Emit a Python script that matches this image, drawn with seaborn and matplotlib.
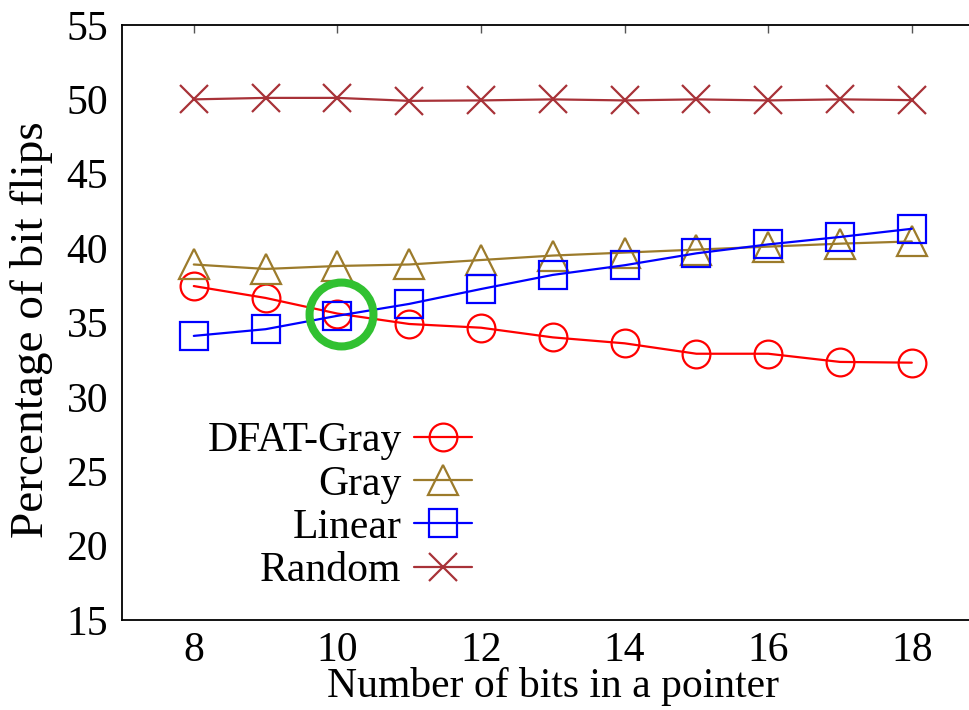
import matplotlib
matplotlib.use("Agg")
import matplotlib.pyplot as plt
import seaborn as sns
import pandas as pd

bits = [8, 9, 10, 11, 12, 13, 14, 15, 16, 17, 18]
dfat_gray = [37.45, 36.65, 35.6, 34.9, 34.65, 34.0, 33.6, 32.9, 32.9, 32.35, 32.3]
gray = [38.9, 38.6, 38.8, 38.9, 39.2, 39.5, 39.7, 39.9, 40.1, 40.3, 40.45]
linear = [34.1, 34.55, 35.45, 36.25, 37.25, 38.2, 38.85, 39.65, 40.25, 40.75, 41.3]
random_ = [50.0, 50.1, 50.1, 49.9, 49.93, 50.0, 49.93, 50.0, 49.93, 50.0, 49.95]

series_names = ["DFAT-Gray", "Gray", "Linear", "Random"]
series_values = [dfat_gray, gray, linear, random_]
colors = ["#ff0000", "#9c7b2b", "#0000ff", "#a83238"]
markers = ["o", "^", "s", "x"]
msizes = [20, 21, 19.5, 19.5]

highlight_x = [10.05]
highlight_y = [35.55]

xticks = [8, 10, 12, 14, 16, 18]
yticks = [15, 20, 25, 30, 35, 40, 45, 50, 55]

sns.set_style("white")
plt.rcParams["font.family"] = ["Liberation Serif", "DejaVu Serif"]
plt.rcParams["text.color"] = "black"
plt.rcParams["axes.labelcolor"] = "black"
plt.rcParams["xtick.color"] = "black"
plt.rcParams["ytick.color"] = "black"

fig = plt.figure(figsize=(9.69, 7.10), dpi=100)
ax = fig.add_axes([122 / 969, 90 / 710, 861.6 / 969, 595 / 710])

for name, vals, c, m, ms in zip(series_names, series_values, colors, markers, msizes):
    df = pd.DataFrame({"bits": bits, "val": vals})
    sns.lineplot(data=df, x="bits", y="val", ax=ax, color=c, marker=m,
                 markersize=ms, markerfacecolor="none", markeredgecolor=c,
                 markeredgewidth=1.6, linewidth=1.6, label=name)

ax.plot(highlight_x, highlight_y, marker="o", markersize=46, markerfacecolor="none",
        markeredgecolor="#31c131", markeredgewidth=5.8, linestyle="none")

ax.set_xlim(7, 19)
ax.set_ylim(15, 55)
ax.set_xticks(xticks)
ax.set_yticks(yticks)
ax.set_xlabel("Number of bits in a pointer", fontsize=30, labelpad=-2)
ax.set_ylabel("Percentage of bit flips", fontsize=34)
ax.yaxis.set_label_coords(-0.080, 0.488)
ax.tick_params(direction="in", top=True, right=True, length=6, width=1,
               color="#555555", labelcolor="black", labelsize=30)
ax.tick_params(axis="x", pad=8)
ax.tick_params(axis="y", pad=10)
for s in ax.spines.values():
    s.set_color("black")
    s.set_linewidth(1.3)

leg = ax.legend(loc="upper left", bbox_to_anchor=(0.099, 0.333), frameon=False,
                markerfirst=False, fontsize=30, handlelength=1.37,
                handletextpad=0.31, labelspacing=0.115, borderpad=0,
                borderaxespad=0)
# right-align legend rows like gnuplot
for col in leg._legend_handle_box.get_children():
    col.align = "right"

fig.savefig("out.png", dpi=100)
